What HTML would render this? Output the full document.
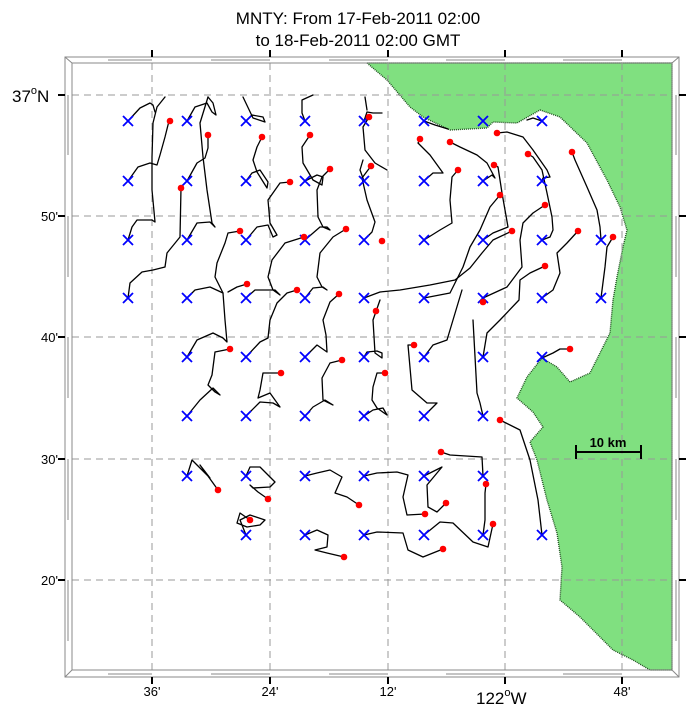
<!DOCTYPE html>
<html><head><meta charset="utf-8"><style>
body{margin:0;background:#fff;width:691px;height:710px;overflow:hidden}
svg{display:block}
text{font-family:"Liberation Sans",sans-serif;fill:#000}
</style></head><body>
<svg width="691" height="710" viewBox="0 0 691 710" xmlns="http://www.w3.org/2000/svg">
<text x="358" y="24" font-size="17" text-anchor="middle">MNTY: From 17-Feb-2011 02:00</text>
<text x="358" y="46" font-size="17" text-anchor="middle">to 18-Feb-2011 02:00 GMT</text>

<polygon fill="#80e080" stroke="#1f4f1f" stroke-width="1.4" stroke-dasharray="1,1" points="367,63 387,80 410,107 423,117 450,130 487,128 493,122 517,123 540,110 560,117 587,143 607,180 620,207 627,230 623,247 617,277 613,300 610,333 590,373 570,382 557,367 542,358 527,377 517,398 533,412 543,427 530,442 537,460 547,500 557,533 562,567 560,600 580,617 600,637 613,650 633,660 650,670 672,670 672,63"/>

<g stroke="#999" stroke-width="1" stroke-dasharray="7,5" fill="none">
<line x1="152" y1="63" x2="152" y2="670"/><line x1="270" y1="63" x2="270" y2="670"/><line x1="388" y1="63" x2="388" y2="670"/><line x1="505" y1="63" x2="505" y2="670"/><line x1="622" y1="63" x2="622" y2="670"/>
<line x1="72" y1="95" x2="672" y2="95"/><line x1="72" y1="216" x2="672" y2="216"/><line x1="72" y1="337" x2="672" y2="337"/><line x1="72" y1="459" x2="672" y2="459"/><line x1="72" y1="580" x2="672" y2="580"/>
</g>

<g stroke="#888" stroke-width="1" fill="none">
<rect x="65" y="57" width="614" height="620"/>
<rect x="72" y="63" width="600" height="607"/>
<line x1="65" y1="57" x2="72" y2="63"/><line x1="679" y1="57" x2="672" y2="63"/><line x1="65" y1="677" x2="72" y2="670"/><line x1="679" y1="677" x2="672" y2="670"/>
<path d="M108,60H152M211,60H270M329,60H388M446,60H505M563,60H622"/>
<path d="M108,674H152M211,674H270M329,674H388M446,674H505M563,674H622"/>
<path d="M68,95V155M68,216V277M68,337V398M68,459V520M68,580V641"/>
<path d="M676,95V155M676,216V277M676,337V398M676,459V520M676,580V641"/>
</g>
<g stroke="#000" stroke-width="2">
<path d="M152,50V57M270,50V57M388,50V57M505,50V57M622,50V57"/>
<path d="M152,677V684M270,677V684M388,677V684M505,677V684M622,677V684"/>
<path d="M58,95H65M58,216H65M58,337H65M58,459H65M58,580H65"/>
<path d="M679,95H686M679,216H686M679,337H686M679,459H686M679,580H686"/>
</g>

<text x="12" y="102" font-size="17">37<tspan dy="-8" font-size="11">o</tspan><tspan dy="8">N</tspan></text>
<text x="58" y="221" font-size="13" text-anchor="end">50'</text>
<text x="58" y="342" font-size="13" text-anchor="end">40'</text>
<text x="58" y="464" font-size="13" text-anchor="end">30'</text>
<text x="58" y="585" font-size="13" text-anchor="end">20'</text>
<text x="152" y="696" font-size="13" text-anchor="middle">36'</text>
<text x="270" y="696" font-size="13" text-anchor="middle">24'</text>
<text x="388" y="696" font-size="13" text-anchor="middle">12'</text>
<text x="476" y="704" font-size="17">122<tspan dy="-8" font-size="11">o</tspan><tspan dy="8">W</tspan></text>
<text x="622" y="696" font-size="13" text-anchor="middle">48'</text>

<g stroke="#000" stroke-width="1.3" fill="none" stroke-linejoin="round" stroke-linecap="round">
<polyline points="128,121 140,108 150,103 153,105 155,112"/>
<polyline points="128,181 138,167 150,163 157,165 160,155 165,137 169,121"/>
<polyline points="128,240 132,227 137,220 152,220 155,222 152,190 152,157 153,123 157,107 165,97"/>
<polyline points="128,298 130,283 142,272 153,270 165,267 167,253 180,237 181,188"/>
<polyline points="187,121 195,107 207,103 212,112 216,115 213,103 208,97"/>
<polyline points="187,181 197,163 205,158 208,148 208,135"/>
<polyline points="187,240 197,223 210,222 215,227 212,223 207,190 203,157 200,123 208,97"/>
<polyline points="246,121 252,115 263,117 265,122 253,118 243,97"/>
<polyline points="262,137 257,147 253,160 257,172 267,188 268,182 260,170 252,173 246,181"/>
<polyline points="246,240 257,227 268,225 273,237 277,235 270,223 268,200 280,183 290,182"/>
<polyline points="305,121 302,113 302,100 313,95"/>
<polyline points="310,135 302,147 303,163 313,180 322,185 323,177 317,175 305,181"/>
<polyline points="330,169 322,177 317,190 318,217 323,227 330,230 327,227 320,227 305,240"/>
<polyline points="246,298 255,290 263,290 275,290 280,295 273,290 268,277 272,260 285,243 304,237"/>
<polyline points="346,229 333,237 320,253 317,277 322,287 327,290 323,287 313,288 305,298"/>
<polyline points="187,298 195,290 210,287 223,293"/>
<polyline points="240,231 228,233 225,243 217,263 215,277 223,293 225,320 227,342 223,338 213,333 197,340 187,357"/>
<polyline points="247,284 237,287 228,292"/>
<polyline points="230,349 215,352 212,375 208,385 215,392 220,395 213,388 200,400 187,416"/>
<polyline points="246,357 260,342 268,338 270,320 277,303 287,293 297,290"/>
<polyline points="305,357 317,345 327,352 326,335 323,320 330,302 339,294"/>
<polyline points="364,121 367,112 373,113 382,113"/>
<polyline points="365,97 367,110"/>
<polyline points="369,117 363,127 365,150 375,163 387,170"/>
<polyline points="364,240 372,232 375,222 367,200 362,178 371,166"/>
<polyline points="364,181 360,170 363,160"/>
<polyline points="424,121 435,125 448,129"/>
<polyline points="420,139 418,143 430,155 443,173 433,173 424,181"/>
<polyline points="450,142 460,147 477,155 487,163 495,178 492,175 483,181"/>
<polyline points="458,170 452,177 450,200 452,223 440,230 424,240"/>
<polyline points="494,165 498,167 502,193 508,227 493,233 483,240"/>
<polyline points="497,133 507,132 523,137 533,150 547,170 550,177 543,178 542,181"/>
<polyline points="542,121 533,118 527,120"/>
<polyline points="528,154 533,157 542,170 547,193 552,217 553,230 550,237 542,240"/>
<polyline points="572,152 575,160 587,187 597,210 600,227 601,240"/>
<polyline points="545,205 533,213 523,223 520,240 522,267 507,287 483,298"/>
<polyline points="500,195 490,207 480,230 470,247 463,267 450,293 424,298"/>
<polyline points="512,231 493,240 482,253 470,268 455,280 430,285 400,290 380,292 364,298"/>
<polyline points="578,231 567,243 557,253 560,273 553,290 542,298"/>
<polyline points="613,237 607,247 605,267 601,298"/>
<polyline points="545,266 530,273 520,280 519,300 500,320 487,333 483,357"/>
<polyline points="424,357 433,345 447,340 453,320 462,290"/>
<polyline points="414,345 408,345 412,390 427,403 437,403 424,416"/>
<polyline points="473,320 477,393 480,403 483,416"/>
<polyline points="500,420 520,430 530,460 538,500 542,535"/>
<polyline points="570,349 560,349 553,353 542,358"/>
<polyline points="364,357 367,352 377,351 382,353 382,358 375,353 373,320 380,300"/>
<polyline points="385,373 377,373 373,387 372,400 377,408 387,415 383,408 373,410 364,416"/>
<polyline points="342,360 330,363 322,378 323,400 333,405 325,400 313,407 305,416"/>
<polyline points="281,373 263,373 260,390 258,398 270,393 280,407 273,403 260,402 246,416"/>
<polyline points="187,476 192,460 210,478 200,465 213,483 218,490"/>
<polyline points="246,476 250,467 260,467 275,482 270,487 253,488 250,485 258,492 268,499"/>
<polyline points="250,520 240,513 237,523 247,527 260,525 265,520 250,515 240,520 246,535"/>
<polyline points="305,476 317,473 330,470 342,477 335,493 347,497 359,505"/>
<polyline points="364,476 377,473 397,472 408,475 403,497 407,515 425,514"/>
<polyline points="424,476 442,467 427,485 428,507 437,512 446,503"/>
<polyline points="441,452 450,455 482,457 483,476"/>
<polyline points="486,484 485,493 485,520 483,535"/>
<polyline points="493,524 488,547 473,542 453,523 440,522 424,535"/>
<polyline points="364,535 377,532 403,533 408,550 423,557 443,549"/>
<polyline points="305,535 317,530 328,535 327,547 315,550 327,553 344,557"/>
</g>

<g stroke="#0000ff" stroke-width="1.8">
<path d="M-5,-5L5,5M-5,5L5,-5" transform="translate(128,121)"/>
<path d="M-5,-5L5,5M-5,5L5,-5" transform="translate(187,121)"/><path d="M-5,-5L5,5M-5,5L5,-5" transform="translate(246,121)"/><path d="M-5,-5L5,5M-5,5L5,-5" transform="translate(305,121)"/><path d="M-5,-5L5,5M-5,5L5,-5" transform="translate(364,121)"/><path d="M-5,-5L5,5M-5,5L5,-5" transform="translate(424,121)"/><path d="M-5,-5L5,5M-5,5L5,-5" transform="translate(483,121)"/><path d="M-5,-5L5,5M-5,5L5,-5" transform="translate(542,121)"/>
<path d="M-5,-5L5,5M-5,5L5,-5" transform="translate(128,181)"/><path d="M-5,-5L5,5M-5,5L5,-5" transform="translate(187,181)"/><path d="M-5,-5L5,5M-5,5L5,-5" transform="translate(246,181)"/><path d="M-5,-5L5,5M-5,5L5,-5" transform="translate(305,181)"/><path d="M-5,-5L5,5M-5,5L5,-5" transform="translate(364,181)"/><path d="M-5,-5L5,5M-5,5L5,-5" transform="translate(424,181)"/><path d="M-5,-5L5,5M-5,5L5,-5" transform="translate(483,181)"/><path d="M-5,-5L5,5M-5,5L5,-5" transform="translate(542,181)"/>
<path d="M-5,-5L5,5M-5,5L5,-5" transform="translate(128,240)"/><path d="M-5,-5L5,5M-5,5L5,-5" transform="translate(187,240)"/><path d="M-5,-5L5,5M-5,5L5,-5" transform="translate(246,240)"/><path d="M-5,-5L5,5M-5,5L5,-5" transform="translate(305,240)"/><path d="M-5,-5L5,5M-5,5L5,-5" transform="translate(364,240)"/><path d="M-5,-5L5,5M-5,5L5,-5" transform="translate(424,240)"/><path d="M-5,-5L5,5M-5,5L5,-5" transform="translate(483,240)"/><path d="M-5,-5L5,5M-5,5L5,-5" transform="translate(542,240)"/><path d="M-5,-5L5,5M-5,5L5,-5" transform="translate(601,240)"/>
<path d="M-5,-5L5,5M-5,5L5,-5" transform="translate(128,298)"/><path d="M-5,-5L5,5M-5,5L5,-5" transform="translate(187,298)"/><path d="M-5,-5L5,5M-5,5L5,-5" transform="translate(246,298)"/><path d="M-5,-5L5,5M-5,5L5,-5" transform="translate(305,298)"/><path d="M-5,-5L5,5M-5,5L5,-5" transform="translate(364,298)"/><path d="M-5,-5L5,5M-5,5L5,-5" transform="translate(424,298)"/><path d="M-5,-5L5,5M-5,5L5,-5" transform="translate(483,298)"/><path d="M-5,-5L5,5M-5,5L5,-5" transform="translate(542,298)"/><path d="M-5,-5L5,5M-5,5L5,-5" transform="translate(601,298)"/>
<path d="M-5,-5L5,5M-5,5L5,-5" transform="translate(187,357)"/><path d="M-5,-5L5,5M-5,5L5,-5" transform="translate(246,357)"/><path d="M-5,-5L5,5M-5,5L5,-5" transform="translate(305,357)"/><path d="M-5,-5L5,5M-5,5L5,-5" transform="translate(364,357)"/><path d="M-5,-5L5,5M-5,5L5,-5" transform="translate(424,357)"/><path d="M-5,-5L5,5M-5,5L5,-5" transform="translate(483,357)"/><path d="M-5,-5L5,5M-5,5L5,-5" transform="translate(542,357)"/>
<path d="M-5,-5L5,5M-5,5L5,-5" transform="translate(187,416)"/><path d="M-5,-5L5,5M-5,5L5,-5" transform="translate(246,416)"/><path d="M-5,-5L5,5M-5,5L5,-5" transform="translate(305,416)"/><path d="M-5,-5L5,5M-5,5L5,-5" transform="translate(364,416)"/><path d="M-5,-5L5,5M-5,5L5,-5" transform="translate(424,416)"/><path d="M-5,-5L5,5M-5,5L5,-5" transform="translate(483,416)"/>
<path d="M-5,-5L5,5M-5,5L5,-5" transform="translate(187,476)"/><path d="M-5,-5L5,5M-5,5L5,-5" transform="translate(246,476)"/><path d="M-5,-5L5,5M-5,5L5,-5" transform="translate(305,476)"/><path d="M-5,-5L5,5M-5,5L5,-5" transform="translate(364,476)"/><path d="M-5,-5L5,5M-5,5L5,-5" transform="translate(424,476)"/><path d="M-5,-5L5,5M-5,5L5,-5" transform="translate(483,476)"/>
<path d="M-5,-5L5,5M-5,5L5,-5" transform="translate(246,535)"/><path d="M-5,-5L5,5M-5,5L5,-5" transform="translate(305,535)"/><path d="M-5,-5L5,5M-5,5L5,-5" transform="translate(364,535)"/><path d="M-5,-5L5,5M-5,5L5,-5" transform="translate(424,535)"/><path d="M-5,-5L5,5M-5,5L5,-5" transform="translate(483,535)"/><path d="M-5,-5L5,5M-5,5L5,-5" transform="translate(542,535)"/>
</g>

<g fill="#ff0000">
<circle cx="170" cy="121" r="3.3"/><circle cx="208" cy="135" r="3.3"/><circle cx="262" cy="137" r="3.3"/><circle cx="310" cy="135" r="3.3"/><circle cx="369" cy="117" r="3.3"/><circle cx="420" cy="139" r="3.3"/><circle cx="450" cy="142" r="3.3"/><circle cx="497" cy="133" r="3.3"/><circle cx="528" cy="154" r="3.3"/><circle cx="572" cy="152" r="3.3"/>
<circle cx="181" cy="188" r="3.3"/><circle cx="290" cy="182" r="3.3"/><circle cx="330" cy="169" r="3.3"/><circle cx="371" cy="166" r="3.3"/><circle cx="458" cy="170" r="3.3"/><circle cx="494" cy="165" r="3.3"/>
<circle cx="240" cy="231" r="3.3"/><circle cx="304" cy="237" r="3.3"/><circle cx="346" cy="229" r="3.3"/><circle cx="382" cy="241" r="3.3"/><circle cx="500" cy="195" r="3.3"/><circle cx="512" cy="231" r="3.3"/><circle cx="545" cy="205" r="3.3"/><circle cx="578" cy="231" r="3.3"/><circle cx="613" cy="237" r="3.3"/>
<circle cx="247" cy="284" r="3.3"/><circle cx="297" cy="290" r="3.3"/><circle cx="339" cy="294" r="3.3"/><circle cx="376" cy="311" r="3.3"/><circle cx="483" cy="302" r="3.3"/><circle cx="545" cy="266" r="3.3"/>
<circle cx="230" cy="349" r="3.3"/><circle cx="281" cy="373" r="3.3"/><circle cx="342" cy="360" r="3.3"/><circle cx="385" cy="373" r="3.3"/><circle cx="414" cy="345" r="3.3"/><circle cx="570" cy="349" r="3.3"/>
<circle cx="500" cy="420" r="3.3"/><circle cx="441" cy="452" r="3.3"/><circle cx="486" cy="484" r="3.3"/>
<circle cx="218" cy="490" r="3.3"/><circle cx="268" cy="499" r="3.3"/><circle cx="250" cy="520" r="3.3"/><circle cx="359" cy="505" r="3.3"/><circle cx="446" cy="503" r="3.3"/><circle cx="425" cy="514" r="3.3"/>
<circle cx="344" cy="557" r="3.3"/><circle cx="443" cy="549" r="3.3"/><circle cx="493" cy="524" r="3.3"/>
</g>

<g stroke="#000" stroke-width="2">
<path d="M576,452H641M576,445V459M641,445V459"/>
</g>
<text x="608" y="447" font-size="13" font-weight="bold" text-anchor="middle">10 km</text>
</svg>
</body></html>
